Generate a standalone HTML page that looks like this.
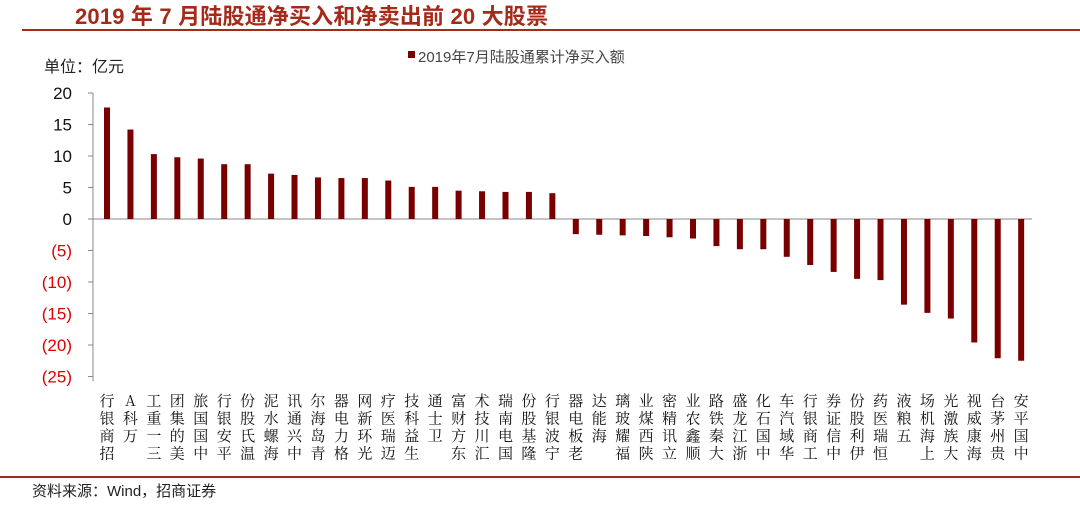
<!DOCTYPE html>
<html><head><meta charset="utf-8"><style>
body{margin:0;width:1080px;height:511px;background:#fff;overflow:hidden;font-family:"Liberation Sans","Noto Sans CJK SC",sans-serif}
</style></head><body>
<svg width="1080" height="511" xmlns="http://www.w3.org/2000/svg" font-family="Liberation Sans, Noto Sans CJK SC, sans-serif">
<text x="75" y="24" font-size="22" font-weight="bold" fill="#a52a1a" textLength="473">2019 年 7 月陆股通净买入和净卖出前 20 大股票</text>
<rect x="22" y="29" width="1058" height="2" fill="#a52a1a"/>
<rect x="408" y="51" width="7" height="7" fill="#7a0000"/>
<text x="418" y="62" font-size="15" fill="#444">2019年7月陆股通累计净买入额</text>
<text x="44" y="72" font-size="16" fill="#222">单位：亿元</text>
<g id="chart"></g>
<rect x="0" y="476" width="1080" height="2" fill="#a52a1a"/>
<text x="32" y="496" font-size="15" fill="#222">资料来源：Wind，招商证券</text>
</svg>
<script>
var vals=[17.7,14.2,10.3,9.8,9.6,8.7,8.7,7.2,7.0,6.6,6.5,6.5,6.1,5.1,5.1,4.5,4.4,4.3,4.3,4.1,-2.4,-2.5,-2.6,-2.7,-2.9,-3.1,-4.3,-4.8,-4.8,-6.0,-7.3,-8.4,-9.5,-9.7,-13.6,-14.9,-15.8,-19.6,-22.1,-22.5];
var names=["招商银行","万科A","三一重工","美的集团","中国国旅","平安银行","温氏股份","海螺水泥","中兴通讯","青岛海尔","格力电器","光环新网","迈瑞医疗","生益科技","卫士通","东方财富","汇川技术","国电南瑞","隆基股份","宁波银行","老板电器","海能达","福耀玻璃","陕西煤业","立讯精密","顺鑫农业","大秦铁路","浙江龙盛","中国石化","华域汽车","工商银行","中信证券","伊利股份","恒瑞医药","五粮液","上海机场","大族激光","海康威视","贵州茅台","中国平安"];
var s='',y0=219,k=6.3;
s+='<line x1="93" y1="93" x2="93" y2="381" stroke="#888"/>';
s+='<line x1="93" y1="219" x2="1032" y2="219" stroke="#888"/>';
for(var v=20;v>=-25;v-=5){var y=y0-v*k;s+='<line x1="88" y1="'+y+'" x2="93" y2="'+y+'" stroke="#888"/>';
var t=v<0?'('+(-v)+')':''+v;s+='<text x="72" y="'+(y+6)+'" font-size="17" text-anchor="end" fill="'+(v<0?'#e00000':'#111')+'">'+t+'</text>';}
for(var i=0;i<40;i++){var x=107+i*23.44,v=vals[i],h=Math.abs(v)*k;
s+='<rect x="'+(x-3)+'" y="'+(v>0?y0-h:y0)+'" width="6" height="'+h+'" fill="#7a0000"/>';
var n=names[i].split('').reverse();for(var j=0;j<n.length;j++)s+='<text x="'+x+'" y="'+(406+j*17.5)+'" font-size="15" font-family="Noto Serif CJK SC, Liberation Sans, serif" text-anchor="middle" fill="#111">'+n[j]+'</text>';}
document.getElementById('chart').innerHTML=s;
</script>
</body></html>
